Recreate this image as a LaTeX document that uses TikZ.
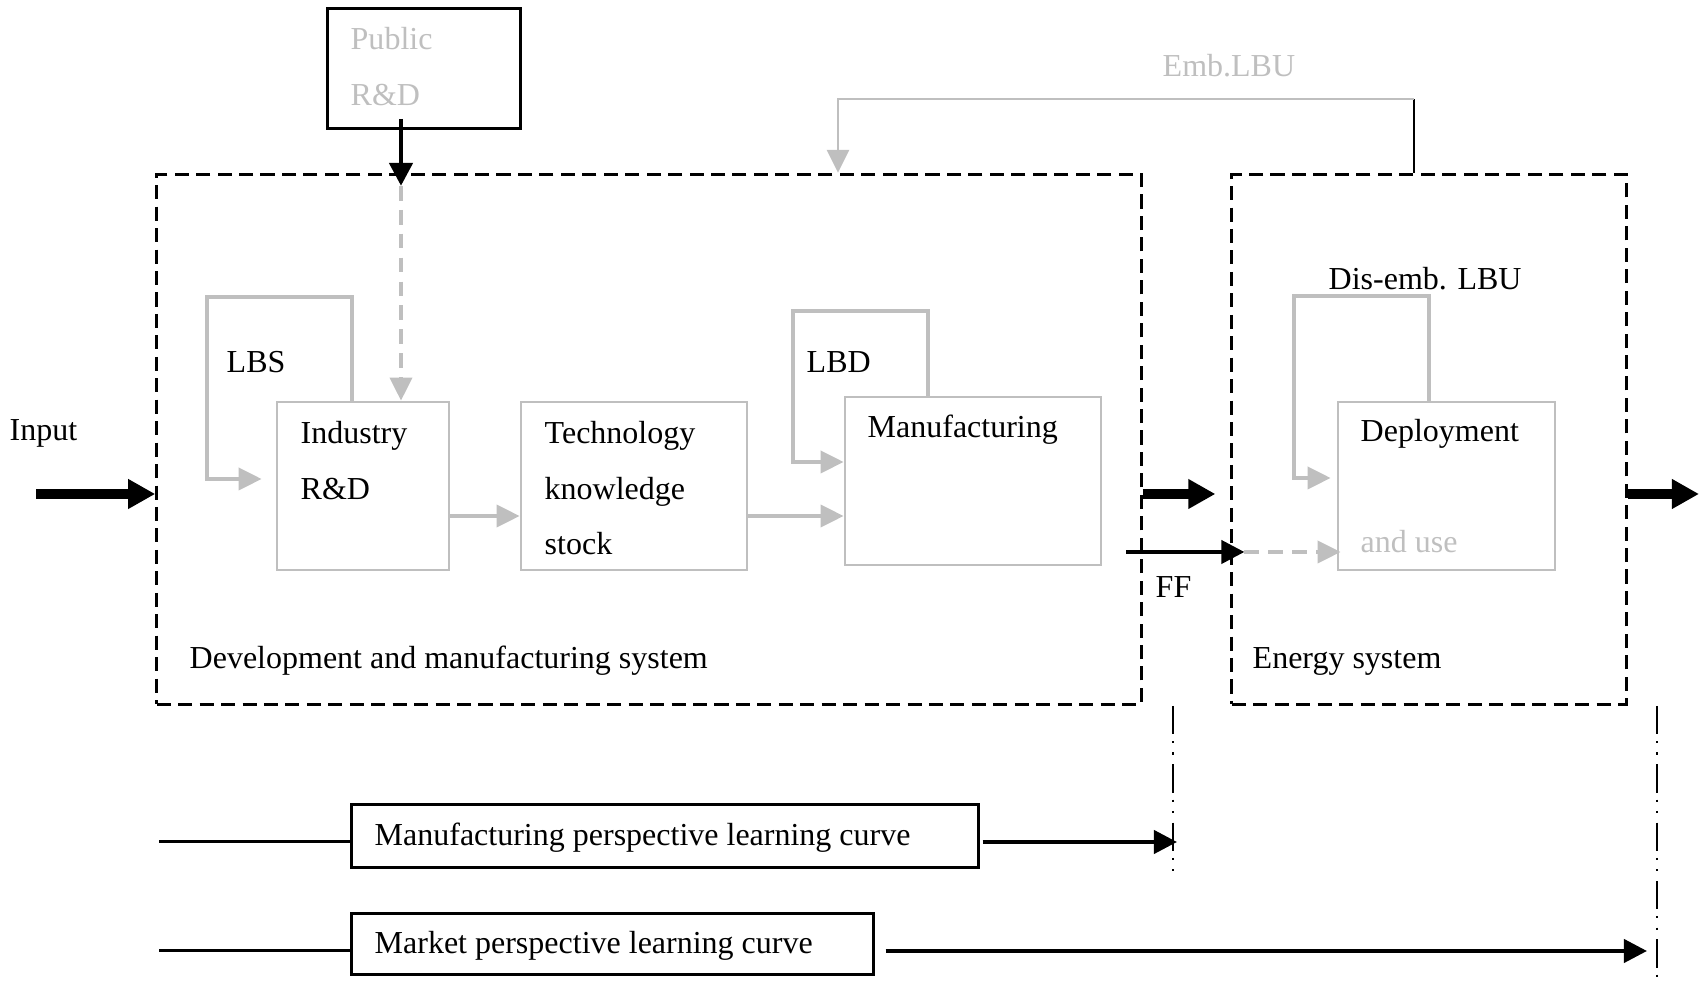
\documentclass[tikz,border=0pt]{standalone}
\usepackage{fontspec}
\setmainfont{Liberation Serif}
\usetikzlibrary{arrows.meta}
\definecolor{boxgrey}{RGB}{191,191,191}
\tikzstyle{greybox}=[rectangle,draw=boxgrey,line width=0.75pt,inner sep=0pt]
\tikzstyle{blackbox}=[rectangle,draw,line width=0.85pt,inner sep=0pt]
\tikzstyle{system}=[rectangle,draw,line width=0.85pt,dash pattern=on 4pt off 2.1pt,inner sep=0pt]
\tikzstyle{txt}=[inner sep=0pt,align=left,font=\fontsize{9.1}{15.7}\selectfont]
\tikzstyle{greyarrow}=[draw=boxgrey,line width=1.1pt,-{Triangle[length=0.23cm,width=0.22cm]}]
\tikzstyle{greydash}=[dash pattern=on 4.2pt off 2.6pt]
\tikzstyle{flowarrow}=[draw,line width=2.6pt,-{Triangle[length=0.27cm,width=0.28cm]}]
\tikzstyle{thinarrow}=[draw,line width=1.15pt,-{Triangle[length=0.23cm,width=0.23cm]}]
\tikzstyle{thinline}=[draw,line width=0.85pt]
\tikzstyle{dashdot}=[draw,line width=0.6pt,dash pattern=on 8pt off 2pt on 0.6pt off 2.6pt on 0.6pt off 2.8pt]

\begin{document}
\begin{tikzpicture}[x=0.01cm,y=-0.01cm]
		\useasboundingbox (0,0) rectangle (1699,983);
		
		\node (devsys) [system,minimum width=9.84cm,minimum height=5.295cm] at (649,439.25) {};
		\node (enersys) [system,minimum width=3.94cm,minimum height=5.295cm] at (1429,439.25) {};
		\node (pub) [blackbox,minimum width=1.92cm,minimum height=1.19cm] at (424,68.5) {};
		\node (ind) [greybox,minimum width=1.72cm,minimum height=1.68cm] at (363,486) {};
		\node (tech) [greybox,minimum width=2.26cm,minimum height=1.68cm] at (634,486) {};
		\node (man) [greybox,minimum width=2.56cm,minimum height=1.68cm] at (973,481) {};
		\node (dep) [greybox,minimum width=2.17cm,minimum height=1.68cm] at (1446.5,486) {};
		\node (mpl) [blackbox,minimum width=6.26cm,minimum height=0.62cm] at (665,836) {};
		\node (mkt) [blackbox,minimum width=5.21cm,minimum height=0.60cm] at (612.5,944) {};
		
		\node (pubtxt) [txt,anchor=north west,text=boxgrey] at (350,27) {Public\\R\&D};
		\node (indtxt) [txt,anchor=north west] at (300,421) {Industry\\R\&D};
		\node (techtxt) [txt,anchor=north west] at (544,421) {Technology\\knowledge\\stock};
		\node (mantxt) [txt,anchor=base west] at (867,438) {Manufacturing};
		\node (deptxt) [txt,anchor=base west] at (1360,442) {Deployment};
		\node (usetxt) [txt,anchor=base west,text=boxgrey] at (1360,553) {and use};
		\node (lbs) [txt,anchor=base west] at (226,373) {LBS};
		\node (lbd) [txt,anchor=base west] at (806,373) {LBD};
		\node (dislbu) [txt,anchor=base west] at (1328,290) {Dis-emb. LBU};
		\node (emblbu) [txt,anchor=base west,text=boxgrey] at (1162,77) {Emb.LBU};
		\node (input) [txt,anchor=base west] at (9,441) {Input};
		\node (ff) [txt,anchor=base west] at (1155,598) {FF};
		\node (devtxt) [txt,anchor=base west] at (189,669) {Development and manufacturing system};
		\node (enertxt) [txt,anchor=base west] at (1252,669) {Energy system};
		\node (mpltxt) [txt,anchor=base west] at (374,846) {Manufacturing perspective learning curve};
		\node (mkttxt) [txt,anchor=base west] at (374,954) {Market perspective learning curve};
		
		\coordinate (inpt) at (36,494);
		\coordinate (outpt) at (1699,494);
		\coordinate (pubdrop) at (401,119);
		\coordinate (embR) at (1414,99);
		\coordinate (embL) at (838,99);
		\coordinate (ffstart) at (1126,552);
		\coordinate (cutAtop) at (1173,706);
		\coordinate (cutAbot) at (1173,876);
		\coordinate (cutBtop) at (1657,706);
		\coordinate (cutBbot) at (1657,983);
		\coordinate (mplin) at (159,842);
		\coordinate (mktin) at (159,951);
		
		\draw[flowarrow] (inpt) -- (inpt -| devsys.west);
		\draw[flowarrow,shorten >=0.15cm] (devsys.east |- inpt) -- (enersys.west |- inpt);
		\draw[flowarrow] (enersys.east |- outpt) -- (outpt);
		
		\draw[thinarrow,line width=1.35pt] (pubdrop) -- ([yshift=-0.13cm]pubdrop |- devsys.north);
		\draw[greyarrow,greydash] ([yshift=-0.13cm]pubdrop |- devsys.north) -- (pubdrop |- ind.north);
		
		\draw[greyarrow,shorten >=0.14cm] ([xshift=-0.11cm]ind.north) -- ++(0,-104) -- ++(-145,0) |- ([yshift=0.07cm]ind.west);
		\draw[greyarrow] ([xshift=-0.45cm]man.north) -- ++(0,-85) -- ++(-135,0) |- ([yshift=0.19cm]man.west);
		\draw[greyarrow,shorten >=0.06cm] ([xshift=-0.175cm]dep.north) -- ++(0,-105) -- ++(-135,0) |- ([yshift=0.08cm]dep.west);
		
		\draw[greyarrow] ([yshift=-0.3cm]ind.east) -- ([yshift=-0.3cm]tech.west);
		\draw[greyarrow] ([yshift=-0.3cm]tech.east) -- ([yshift=-0.3cm]tech.east -| man.west);
		
		\draw[line width=0.5pt] (embR |- enersys.north) -- (embR);
		\draw[greyarrow,line width=0.8pt] (embR) -- (embL) -- (embL |- devsys.north);
		
		\draw[thinarrow] (ffstart) -- ([xshift=0.14cm]ffstart -| enersys.west);
		\draw[greyarrow,greydash] ([xshift=0.14cm]ffstart -| enersys.west) -- ([xshift=0.04cm]ffstart -| dep.west);
		
		\draw[dashdot] (cutAtop) -- (cutAbot);
		\draw[dashdot] (cutBtop) -- (cutBbot);
		\draw[thinline] (mplin) -- (mplin -| mpl.west);
		\draw[thinarrow,shorten >=-0.04cm] ([xshift=0.03cm]mpl.east |- mplin) -- (mplin -| cutAtop);
		\draw[thinline] (mktin) -- (mktin -| mkt.west);
		\draw[thinarrow,shorten >=0.1cm] ([xshift=0.11cm]mkt.east |- mktin) -- (mktin -| cutBtop);
		
\end{tikzpicture}
\end{document}
